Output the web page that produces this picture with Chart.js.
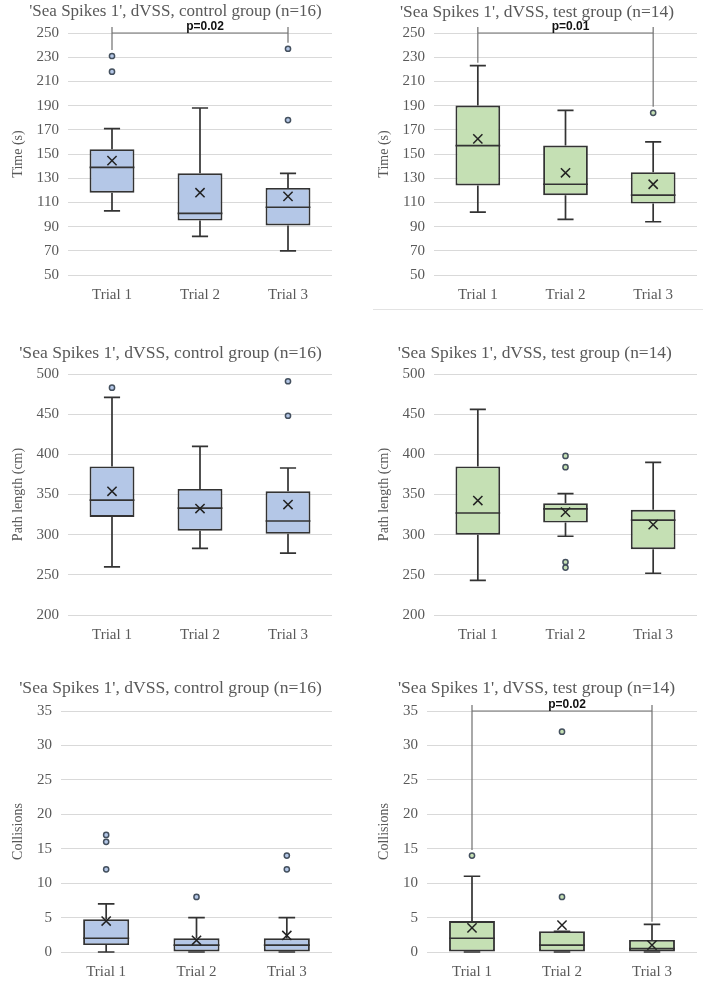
<!DOCTYPE html>
<html>
<head>
<meta charset="utf-8">
<script src="https://cdn.jsdelivr.net/npm/chart.js@4.4.0/dist/chart.umd.min.js"></script>
<style>
  body { margin: 0; background: #fff; }
  #page { position: relative; width: 712px; height: 984px; overflow: hidden; }
  canvas { position: absolute; }
  .rule { position: absolute; left: 373px; top: 309px; width: 330px; height: 1px; background: #e3e3e3; }
</style>
</head>
<body>
<div id="page">
  <canvas id="c1"></canvas>
  <canvas id="c2"></canvas>
  <canvas id="c3"></canvas>
  <canvas id="c4"></canvas>
  <canvas id="c5"></canvas>
  <canvas id="c6"></canvas>
  <div class="rule"></div>
</div>
<script>
const trials = ['Trial 1', 'Trial 2', 'Trial 3'];

// per trial: [min, q1, median, q3, max] (whisker ends exclude outliers)
const timeCtrlBox = [[103, 118, 139, 154, 171], [82, 95, 101, 134, 188], [70, 91, 106, 122, 134]];
const timeCtrlMean = [144.5, 118, 115];
const timeCtrlOut = [[231, 218], [], [237, 178]];

const timeTestBox = [[102, 124, 157, 190, 223], [96, 116, 125, 157, 186], [94, 109, 116, 135, 160]];
const timeTestMean = [162.5, 134.5, 125];
const timeTestOut = [[], [], [184]];

const pathCtrlBox = [[260, 322, 343, 385, 471], [283, 305, 333, 357, 410], [277, 301, 317, 354, 383]];
const pathCtrlMean = [354, 332.5, 337.5];
const pathCtrlOut = [[483], [], [491, 448]];

const pathTestBox = [[243, 300, 327, 385, 456], [298, 315, 332, 339, 351], [252, 282, 318, 331, 390]];
const pathTestMean = [342.5, 328, 312.5];
const pathTestOut = [[], [398, 384, 266, 259], []];

const collCtrlBox = [[0, 1, 2, 4.75, 7], [0, 0, 1, 2, 5], [0, 0, 1, 2, 5]];
const collCtrlMean = [4.5, 1.7, 2.4];
const collCtrlOut = [[17, 16, 12], [8], [14, 12]];

const collTestBox = [[0, 0, 2, 4.5, 11], [0, 0, 1, 3, 3], [0, 0, 0.5, 1.75, 4]];
const collTestMean = [3.5, 3.9, 1];
const collTestOut = [[14], [32, 8], []];

const ctrlTitle = "'Sea Spikes 1', dVSS, control group (n=16)";
const testTitle = "'Sea Spikes 1', dVSS, test group (n=14)";

const BLUE = '#b4c7e7';
const GREEN = '#c5e0b4';
const INK = '#333333';
const GREY_TEXT = '#595959';
const SERIF = "'Liberation Serif', 'Times New Roman', serif";

// x: canvas offset; titleC: title centre; left/right/top/bottom: plot area in canvas px
const panels = [
  { id: 'c1', x: 0, y: 0, titleY: 12, titleC: 175.5, titleSize: 17, left: 68, right: 332, top: 33, bottom: 275, yTitleX: 18,
    title: ctrlTitle, yLabel: 'Time (s)', min: 50, max: 250, step: 20, fill: BLUE,
    box: timeCtrlBox, mean: timeCtrlMean, out: timeCtrlOut,
    bracket: { label: 'p=0.02', at: 250, ends: [236, 242] } },
  { id: 'c2', x: 356, y: 0, titleY: 12, titleC: 181, titleSize: 17.4, left: 78, right: 341, top: 33, bottom: 275, yTitleX: 28,
    title: testTitle, yLabel: 'Time (s)', min: 50, max: 250, step: 20, fill: GREEN,
    box: timeTestBox, mean: timeTestMean, out: timeTestOut,
    bracket: { label: 'p=0.01', at: 250, ends: [225.5, 189] } },
  { id: 'c3', x: 0, y: 330, titleY: 23, titleC: 170.5, titleSize: 17.6, left: 68, right: 332, top: 44, bottom: 285, yTitleX: 18,
    title: ctrlTitle, yLabel: 'Path length (cm)', min: 200, max: 500, step: 50, fill: BLUE,
    box: pathCtrlBox, mean: pathCtrlMean, out: pathCtrlOut },
  { id: 'c4', x: 356, y: 330, titleY: 23, titleC: 178.8, titleSize: 17.4, left: 78, right: 341, top: 44, bottom: 285, yTitleX: 28,
    title: testTitle, yLabel: 'Path length (cm)', min: 200, max: 500, step: 50, fill: GREEN,
    box: pathTestBox, mean: pathTestMean, out: pathTestOut },
  { id: 'c5', x: 0, y: 665, titleY: 23, titleC: 170.5, titleSize: 17.6, left: 61, right: 332, top: 46, bottom: 287, yTitleX: 18,
    title: ctrlTitle, yLabel: 'Collisions', min: 0, max: 35, step: 5, fill: BLUE,
    box: collCtrlBox, mean: collCtrlMean, out: collCtrlOut },
  { id: 'c6', x: 356, y: 665, titleY: 23, titleC: 180.5, titleSize: 17.6, left: 71, right: 341, top: 46, bottom: 287, yTitleX: 28,
    title: testTitle, yLabel: 'Collisions', min: 0, max: 35, step: 5, fill: GREEN,
    box: collTestBox, mean: collTestMean, out: collTestOut,
    bracket: { label: 'p=0.02', at: 35, ends: [14.8, 4.4] } }
];

// whiskers, medians and the significance bracket, all placed through the chart scales
function boxPlugin(p) {
  return {
    id: 'boxParts',
    beforeDatasetsDraw(chart) {
      const { ctx, scales: { y } } = chart;
      const meta = chart.getDatasetMeta(0);
      ctx.save();
      ctx.strokeStyle = INK;
      ctx.lineWidth = 1.7;
      p.box.forEach((b, i) => {
        const bar = meta.data[i];
        const cx = bar.x;
        const cap = bar.width * 0.18;
        const yMin = y.getPixelForValue(b[0]);
        const yQ1 = y.getPixelForValue(b[1]);
        const yQ3 = y.getPixelForValue(b[3]);
        const yMax = y.getPixelForValue(b[4]);
        ctx.beginPath();
        ctx.moveTo(cx, yQ1); ctx.lineTo(cx, yMin);
        ctx.moveTo(cx - cap, yMin); ctx.lineTo(cx + cap, yMin);
        ctx.moveTo(cx, yQ3); ctx.lineTo(cx, yMax);
        ctx.moveTo(cx - cap, yMax); ctx.lineTo(cx + cap, yMax);
        ctx.stroke();
      });
      ctx.restore();
    },
    afterDatasetDraw(chart, args) {
      if (args.index !== 0) return;
      const { ctx, scales: { y } } = chart;
      const meta = chart.getDatasetMeta(0);
      ctx.save();
      ctx.strokeStyle = INK;
      ctx.lineWidth = 1.7;
      p.box.forEach((b, i) => {
        const bar = meta.data[i];
        const ym = y.getPixelForValue(b[2]);
        ctx.beginPath();
        ctx.moveTo(bar.x - bar.width / 2, ym);
        ctx.lineTo(bar.x + bar.width / 2, ym);
        ctx.stroke();
      });
      ctx.restore();
    },
    afterDraw(chart) {
      if (!p.bracket) return;
      const { ctx, scales: { x, y } } = chart;
      const br = p.bracket;
      const x1 = x.getPixelForValue(0);
      const x3 = x.getPixelForValue(2);
      const yl = y.getPixelForValue(br.at);
      ctx.save();
      ctx.strokeStyle = '#707070';
      ctx.lineWidth = 1.2;
      ctx.beginPath();
      ctx.moveTo(x1, yl); ctx.lineTo(x3, yl);
      ctx.moveTo(x1, yl - 6); ctx.lineTo(x1, y.getPixelForValue(br.ends[0]));
      ctx.moveTo(x3, yl - 6); ctx.lineTo(x3, y.getPixelForValue(br.ends[1]));
      ctx.stroke();
      ctx.fillStyle = '#111';
      ctx.font = "bold 12px 'Liberation Sans', Arial, sans-serif";
      ctx.textAlign = 'center';
      ctx.textBaseline = 'alphabetic';
      ctx.fillText(br.label, (x1 + x3) / 2 + 5, yl - 3);
      ctx.restore();
    }
  };
}

function makeChart(p) {
  const canvas = document.getElementById(p.id);
  const h = p.bottom + 32;
  canvas.width = 356;
  canvas.height = h;
  canvas.style.left = p.x + 'px';
  canvas.style.top = p.y + 'px';
  canvas.style.width = '356px';
  canvas.style.height = h + 'px';

  // left padding chosen so the title centres where it sits in the original
  const padL = 2 * p.titleC - p.right;
  const half = p.titleSize * 0.6;
  const yTitleSize = 14;

  const outliers = [];
  p.out.forEach((vals, i) => vals.forEach(v => outliers.push({ x: trials[i], y: v })));

  new Chart(canvas.getContext('2d'), {
    type: 'bar',
    data: {
      labels: trials,
      datasets: [
        {
          data: p.box.map(b => [b[1], b[3]]),
          backgroundColor: p.fill,
          borderColor: INK,
          borderWidth: 1.9,
          borderSkipped: false,
          categoryPercentage: 0.51,
          barPercentage: 1,
          order: 3
        },
        {
          type: 'line',
          data: outliers,
          showLine: false,
          pointRadius: 2.6,
          pointBackgroundColor: p.fill,
          pointBorderColor: '#44505e',
          pointBorderWidth: 1.5,
          order: 1
        },
        {
          type: 'line',
          data: p.mean,
          showLine: false,
          pointStyle: 'crossRot',
          pointRadius: 6.5,
          pointBorderColor: '#222',
          pointBorderWidth: 1.5,
          order: 0
        }
      ]
    },
    options: {
      responsive: false,
      animation: false,
      layout: { padding: { left: padL, right: 356 - p.right, top: 0, bottom: 0 } },
      plugins: {
        legend: { display: false },
        tooltip: { enabled: false },
        title: {
          display: true,
          text: p.title,
          color: GREY_TEXT,
          font: { family: SERIF, size: p.titleSize, weight: 'normal', lineHeight: 1.2 },
          padding: { top: p.titleY - half, bottom: p.top - p.titleY - half }
        }
      },
      scales: {
        x: {
          grid: { display: false },
          border: { display: false },
          ticks: { color: GREY_TEXT, font: { family: SERIF, size: 15 }, padding: 3 },
          afterFit: s => { s.height = 32; }
        },
        y: {
          min: p.min,
          max: p.max,
          ticks: { stepSize: p.step, color: GREY_TEXT, font: { family: SERIF, size: 15 }, padding: 9 },
          grid: { color: '#d9d9d9', drawTicks: false },
          border: { display: false },
          title: {
            display: true,
            text: p.yLabel,
            color: GREY_TEXT,
            font: { family: SERIF, size: yTitleSize, lineHeight: 1.2 },
            padding: { top: p.yTitleX - padL - yTitleSize * 0.6, bottom: 0 }
          },
          afterFit: s => { s.width = p.left - padL; }
        }
      }
    },
    plugins: [boxPlugin(p)]
  });
}

panels.forEach(makeChart);
</script>
</body>
</html>
